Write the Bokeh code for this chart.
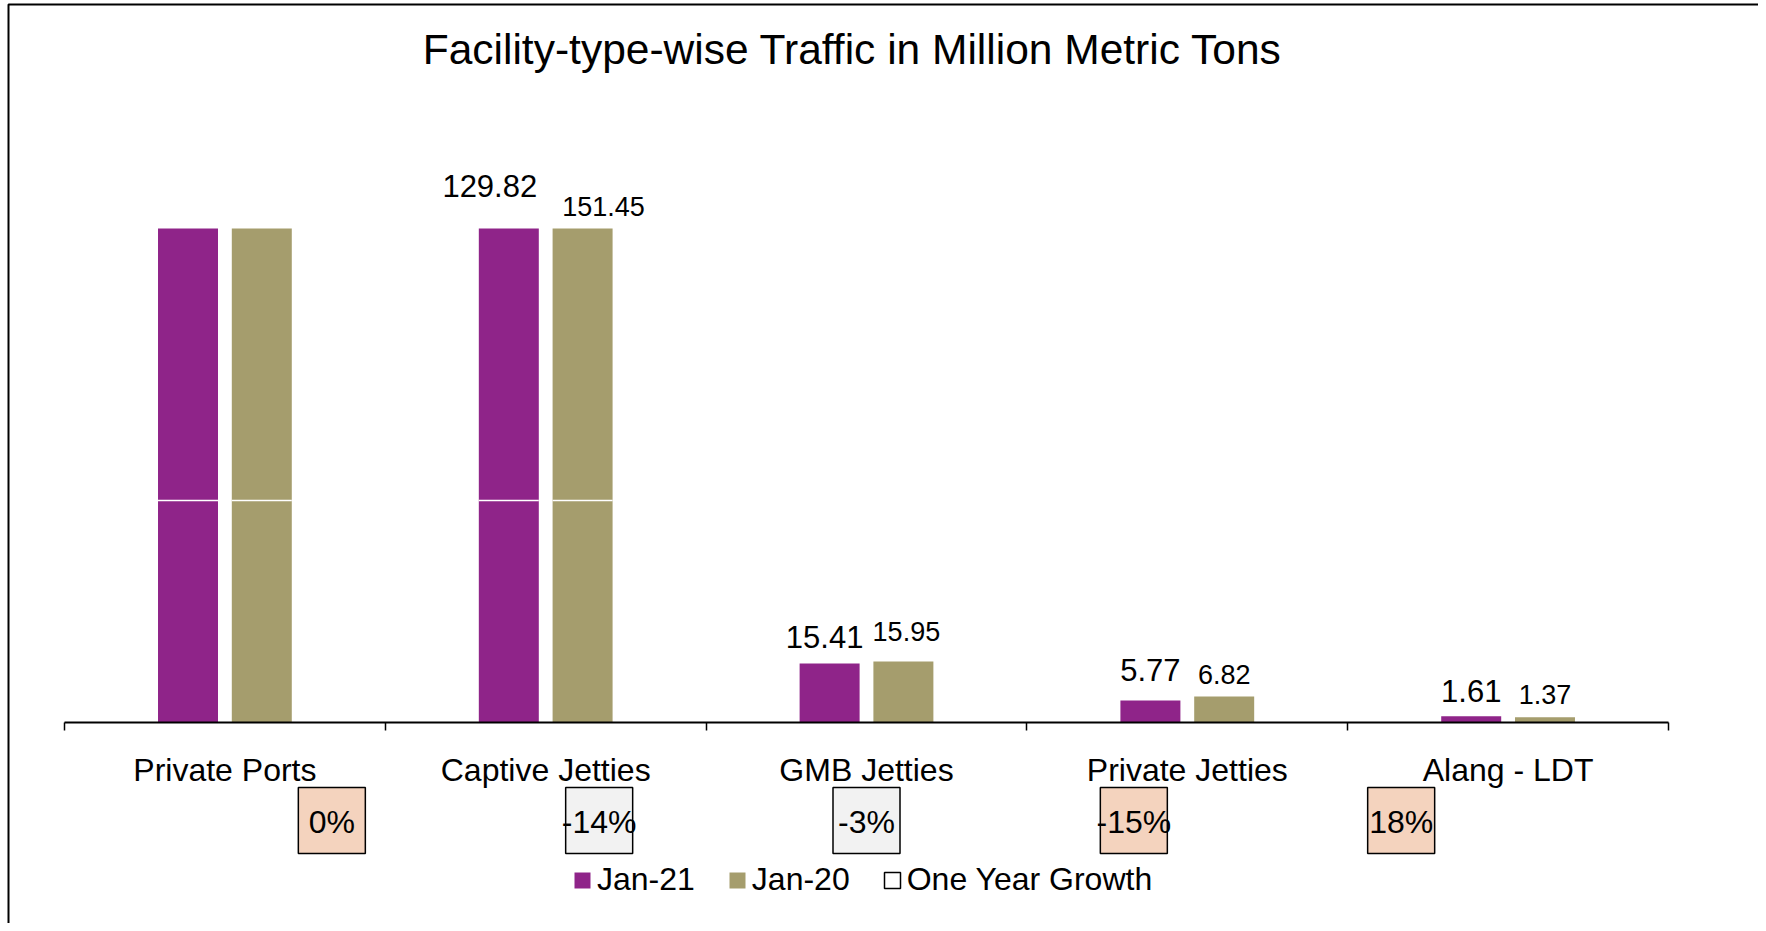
from bokeh.plotting import figure
from bokeh.models import (ColumnDataSource, FixedTicker, LabelSet, Label,
                          BoxAnnotation, Legend, LegendItem, Range1d)
from bokeh.core.properties import value
from bokeh.embed import file_html
from bokeh.resources import INLINE

# ---------------- data ----------------
categories = ["Private Ports", "Captive Jetties", "GMB Jetties", "Private Jetties", "Alang - LDT"]
jan21 = [171.30, 129.82, 15.41, 5.77, 1.61]
jan20 = [170.93, 151.45, 15.95, 6.82, 1.37]
growth_pct = [0, -14, -3, -15, 18]
show_value_label = [False, True, True, True, True]
series_names = ["Jan-21", "Jan-20"]
growth_name = "One Year Growth"
title_text = "Facility-type-wise Traffic in Million Metric Tons"

# ---------------- style / layout ----------------
PURPLE = "#8F2489"
KHAKI = "#A59D6D"
PEACH = "#F4D3BE"
GREY = "#F2F2F2"
growth_fill = [PEACH, GREY, GREY, PEACH, PEACH]
FONT = "Liberation Sans"
Y_MAX = 129.0      # axis maximum: taller bars are cut at this level
BREAK = 58.0       # level of the white break line on the cut bars
OFF = 0.115
BW = 0.187
# manual nudges of value labels (pixels): the Captive Jetties labels were moved aside
nudge21_dx = [0, -19, -5, 0, 0]
nudge21_dy = [16, 32, 15, 19, 14]
nudge20_dx = [0, 21, 3, 0, 0]
nudge20_dy = [14, 13, 20, 12, 13]

W, H = 1758, 923           # canvas size
PLOT_L, PLOT_R = 64, 1668  # canvas x of category axis ends
AXIS_Y = 722               # canvas y (from top) of the value 0
TOP_Y = 228                # canvas y (from top) of Y_MAX

n = len(categories)
centers = [i + 0.5 for i in range(n)]
px_x = (PLOT_R - PLOT_L) / n
px_y = (AXIS_Y - TOP_Y) / Y_MAX

def sy(cy):
    # screen y (from canvas bottom) for a canvas y measured from the top
    return H - cy

def ydata(cy):
    return (AXIS_Y - cy) / px_y

p = figure(width=W, height=H,
           x_range=Range1d(-PLOT_L / px_x, (W - PLOT_L) / px_x),
           y_range=Range1d(-(H - AXIS_Y) / px_y, AXIS_Y / px_y),
           output_backend="svg", toolbar_location=None, y_axis_location=None,
           min_border=0, min_border_left=0, min_border_right=0,
           min_border_top=0, min_border_bottom=0)
p.xgrid.visible = False
p.ygrid.visible = False
p.outline_line_color = None
p.background_fill_color = "white"
p.border_fill_color = "white"

# bars (cut at the axis maximum)
x21 = [c - OFF for c in centers]
x20 = [c + OFF for c in centers]
s21 = ColumnDataSource(dict(x=x21, top=[min(v, Y_MAX) for v in jan21]))
s20 = ColumnDataSource(dict(x=x20, top=[min(v, Y_MAX) for v in jan20]))
r21 = p.vbar(x="x", top="top", width=BW, source=s21, fill_color=PURPLE, line_color=None)
r20 = p.vbar(x="x", top="top", width=BW, source=s20, fill_color=KHAKI, line_color=None)

# break line on cut bars
bx0, bx1, by = [], [], []
for xs, vals in ((x21, jan21), (x20, jan20)):
    for x, v in zip(xs, vals):
        if v > BREAK:
            bx0.append(x - BW / 2)
            bx1.append(x + BW / 2)
            by.append(BREAK)
p.segment(x0=bx0, x1=bx1, y0=by, y1=by, line_color="white", line_width=1.5)

# category axis line
p.segment(x0=[0], x1=[n], y0=[0], y1=[0], line_color="black", line_width=2)

# value labels
def label_source(xs, vals, dxs, dys):
    d = dict(x=[], y=[], t=[], dx=[], dy=[])
    for x, v, s, dx, dy in zip(xs, vals, show_value_label, dxs, dys):
        if s:
            d["x"].append(x)
            d["y"].append(min(v, Y_MAX))
            d["t"].append(f"{v:.2f}")
            d["dx"].append(dx)
            d["dy"].append(dy)
    return ColumnDataSource(d)

p.add_layout(LabelSet(x="x", y="y", text="t", source=label_source(x21, jan21, nudge21_dx, nudge21_dy),
                      x_offset="dx", y_offset="dy", text_align="center", text_baseline="alphabetic",
                      text_font=value(FONT), text_font_size=value("31px"), text_color="black"))
p.add_layout(LabelSet(x="x", y="y", text="t", source=label_source(x20, jan20, nudge20_dx, nudge20_dy),
                      x_offset="dx", y_offset="dy", text_align="center", text_baseline="alphabetic",
                      text_font=value(FONT), text_font_size=value("27px"), text_color="black"))

# category axis (ticks at boundaries, labels at centres)
ax = p.xaxis[0]
ax.fixed_location = 0
ax.ticker = FixedTicker(ticks=centers, minor_ticks=list(range(n + 1)))
ax.major_label_overrides = {c: name for c, name in zip(centers, categories)}
ax.axis_line_color = None
ax.major_tick_out = 0
ax.major_tick_in = 0
ax.minor_tick_out = 8
ax.minor_tick_in = 0
ax.minor_tick_line_width = 1.5
ax.minor_tick_line_color = "black"
ax.major_label_standoff = 21
ax.major_label_text_font = FONT
ax.major_label_text_font_size = "32px"
ax.major_label_text_color = "black"

# growth boxes (secondary positions)
gx = [(i + 1) * n / (n + 1) for i in range(n)]
gsrc = ColumnDataSource(dict(x=gx, y=[ydata(820)] * n, ty=[ydata(821)] * n,
                             t=[f"{g}%" for g in growth_pct], fill=growth_fill))
p.rect(x="x", y="y", width=67, height=66, width_units="screen", height_units="screen",
       source=gsrc, fill_color="fill", line_color=None)
r_growth = p.rect(x="x", y="y", width=67, height=66, width_units="screen", height_units="screen",
                  source=gsrc, fill_color=None, line_color="black", line_width=1.5)
p.text(x="x", y="ty", text="t", source=gsrc, text_align="center", text_baseline="alphabetic",
       text_font=value(FONT), text_font_size=value("32px"), text_color="black")

# legend
legend = Legend(items=[LegendItem(label=series_names[0], renderers=[r21]),
                       LegendItem(label=series_names[1], renderers=[r20]),
                       LegendItem(label=growth_name, renderers=[r_growth])],
                orientation="horizontal", location=(572, sy(898)),
                glyph_width=20, glyph_height=20, label_standoff=5, spacing=32,
                padding=0, margin=0, border_line_color=None, background_fill_alpha=0,
                label_text_font=FONT, label_text_font_size="32px", label_text_color="black")
p.add_layout(legend)

# title
p.add_layout(Label(x=852, y=sy(49), x_units="screen", y_units="screen", text=title_text,
                   text_font=FONT, text_font_size="42.5px", text_align="center",
                   text_baseline="alphabetic", text_color="black"))

# chart border (left and top edges visible)
p.add_layout(BoxAnnotation(left=8, right=3000, top=sy(4), bottom=-2000,
                           left_units="screen", right_units="screen",
                           top_units="screen", bottom_units="screen",
                           fill_color=None, line_color="black", line_width=2, line_alpha=1))

open("out.html", "w").write(file_html(p, INLINE))
